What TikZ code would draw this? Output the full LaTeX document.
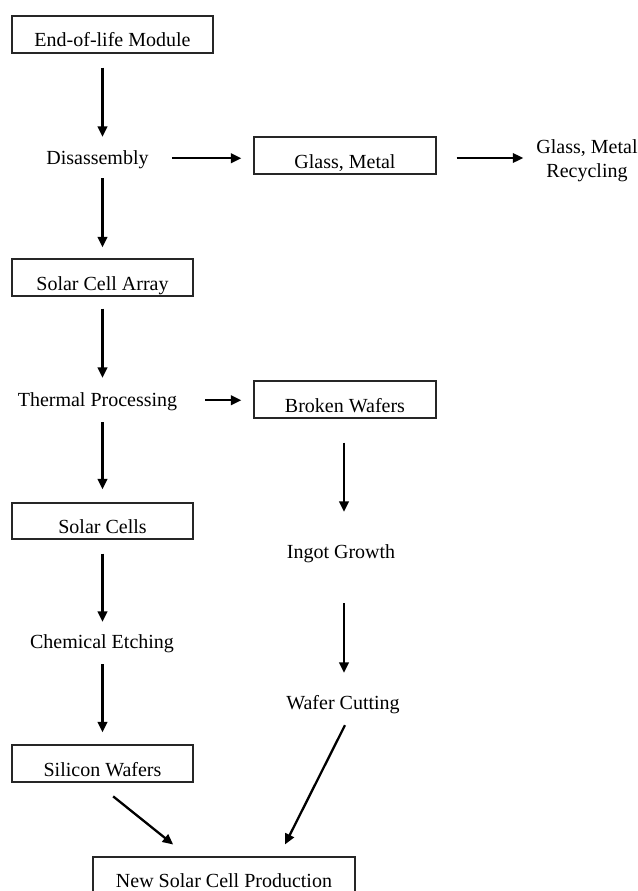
\documentclass[tikz,border=0pt]{standalone}
\usepackage{fontspec}
\setmainfont{Liberation Serif}
\usetikzlibrary{arrows.meta}

\tikzset{
  every node/.style={font=\fontsize{20}{24}\selectfont},
  stagebox/.style={draw=black!85, line width=1.2pt, inner sep=0pt,
    minimum height=37pt, text height=25pt, text depth=0pt},
  steplabel/.style={inner sep=0pt, text height=13.5pt, text depth=4pt, anchor=base},
  flow/.style={line width=2.3pt, -{Triangle[length=10.5pt,width=9.5pt]}},
}

\begin{document}
\begin{tikzpicture}[x=1pt,y=-1pt]
  \useasboundingbox (0,0) rectangle (637,891);
  \clip (0,0) rectangle (637,891);
  \fill[white] (0,0) rectangle (637,891);

  % boxed stages
  \node[stagebox, minimum width=201pt] (eol)     at (112.5,34.5) {End-of-life Module};
  \node[stagebox, minimum width=181pt] (sca)     at (102.5,277.5) {Solar Cell Array};
  \node[stagebox, minimum width=182pt] (glass)   at (345,155.5)  {Glass, Metal};
  \node[stagebox, minimum width=182pt] (broken)  at (345,399.5)  {Broken Wafers};
  \node[stagebox, minimum width=181pt, minimum height=36pt] (cells) at (102.5,521) {Solar Cells};
  \node[stagebox, minimum width=181pt] (silicon) at (102.5,763.5) {Silicon Wafers};
  \node[stagebox, minimum width=262pt, minimum height=36pt] (newprod) at (224,875) {New Solar Cell Production};

  % process steps
  \node[steplabel] (dis)     at (97.5,164) {Disassembly};
  \node[steplabel] (thermal) at (97.5,406) {Thermal Processing};
  \node[steplabel] (chem)    at (102,648)  {Chemical Etching};
  \node[steplabel] (ingot)   at (341,558)  {Ingot Growth};
  \node[steplabel] (cut)     at (343,709)  {Wafer Cutting};
  \node[inner sep=0pt, anchor=north, align=center] (rec) at (587,139)
    {Glass, Metal\\Recycling};

  % main column
  \draw[flow, shorten <=14pt, shorten >=13.5pt] (eol.south -| sca) -- (dis.north -| sca);
  \draw[flow, shorten <=10pt, shorten >=11pt]   (dis.south -| sca) -- (sca.north);
  \draw[flow, shorten <=12pt, shorten >=14.5pt] (sca.south) -- (thermal.north -| sca);
  \draw[flow, shorten <=12pt, shorten >=13pt]   (thermal.south -| sca) -- (cells.north);
  \draw[flow, shorten <=14pt, shorten >=12.5pt] (cells.south) -- (chem.north -| cells);
  \draw[flow, shorten <=12pt, shorten >=12pt]   (chem.south -| cells) -- (silicon.north);

  % side branches
  \draw[flow, shorten <=23pt, shorten >=12pt] ([yshift=1pt]dis.east) -- ([yshift=1pt]glass.west |- dis.east);
  \draw[flow, shorten <=20pt, shorten >=13pt] ([yshift=-2.5pt]glass.east) -- ([yshift=-2.5pt]rec.west |- glass.east);
  \draw[flow, shorten <=28pt, shorten >=12pt] ([yshift=1pt]thermal.east) -- ([yshift=1pt]broken.west |- thermal.east);

  % wafer recycling column
  \draw[flow, shorten <=24pt, shorten >=32.5pt] ([xshift=-1pt]broken.south) -- ([xshift=-1pt]ingot.north -| broken);
  \draw[flow, shorten <=41pt, shorten >=22.5pt] ([xshift=-1pt]ingot.south -| broken) -- ([xshift=-1pt]cut.north -| broken);

  % converging into new production
  \draw[flow, shorten <=13.4pt, shorten >=13.4pt] ([xshift=8pt]cut.south) -- ([xshift=55pt]newprod.north);
  \draw[flow, shorten <=22pt, shorten >=19pt] ([xshift=-6.5pt]silicon.south) -- ([xshift=-36pt]newprod.north);
\end{tikzpicture}
\end{document}
